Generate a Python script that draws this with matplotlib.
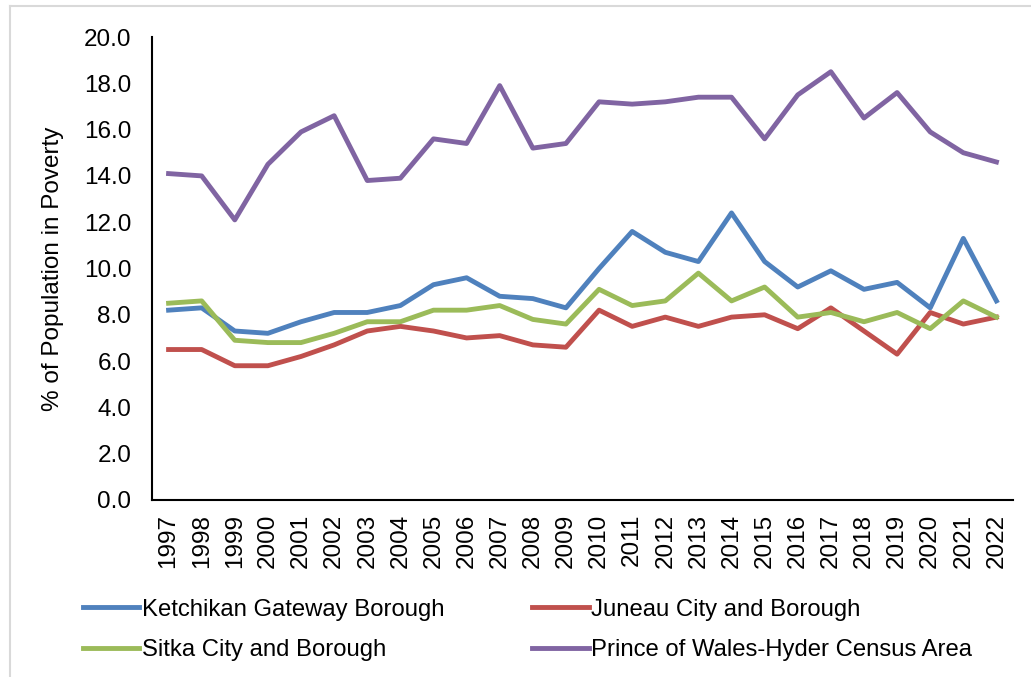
import matplotlib
matplotlib.use("Agg")
import matplotlib.pyplot as plt
from matplotlib.lines import Line2D

plt.rcParams['font.family'] = ['Liberation Sans', 'DejaVu Sans']

years = [str(y) for y in range(1997, 2023)]
ketchikan = [8.2, 8.3, 7.3, 7.2, 7.7, 8.1, 8.1, 8.4, 9.3, 9.6, 8.8, 8.7, 8.3,
             10.0, 11.6, 10.7, 10.3, 12.4, 10.3, 9.2, 9.9, 9.1, 9.4, 8.3, 11.3, 8.6]
juneau = [6.5, 6.5, 5.8, 5.8, 6.2, 6.7, 7.3, 7.5, 7.3, 7.0, 7.1, 6.7, 6.6,
          8.2, 7.5, 7.9, 7.5, 7.9, 8.0, 7.4, 8.3, 7.3, 6.3, 8.1, 7.6, 7.9]
sitka = [8.5, 8.6, 6.9, 6.8, 6.8, 7.2, 7.7, 7.7, 8.2, 8.2, 8.4, 7.8, 7.6,
         9.1, 8.4, 8.6, 9.8, 8.6, 9.2, 7.9, 8.1, 7.7, 8.1, 7.4, 8.6, 7.9]
pow_hyder = [14.1, 14.0, 12.1, 14.5, 15.9, 16.6, 13.8, 13.9, 15.6, 15.4, 17.9, 15.2, 15.4,
             17.2, 17.1, 17.2, 17.4, 17.4, 15.6, 17.5, 18.5, 16.5, 17.6, 15.9, 15.0, 14.6]
yticks = [0, 2, 4, 6, 8, 10, 12, 14, 16, 18, 20]

fig = plt.figure(figsize=(10.31, 6.77), dpi=100)
ax = fig.add_axes([152/1031, 1-500/677, (1013-152)/1031, (500-37)/677])

x = list(range(len(years)))
lw = 3.5
l1, = ax.plot(x, ketchikan, color='#4F81BD', lw=lw, label='Ketchikan Gateway Borough')
l2, = ax.plot(x, juneau, color='#C0504D', lw=lw, label='Juneau City and Borough')
l3, = ax.plot(x, sitka, color='#9BBB59', lw=lw, label='Sitka City and Borough')
l4, = ax.plot(x, pow_hyder, color='#8064A2', lw=lw, label='Prince of Wales-Hyder Census Area')

ax.set_xlim(-0.5, len(years) - 0.5)
ax.set_ylim(0, 20)
ax.set_yticks(yticks)
ax.set_yticklabels([f"{v:.1f}" for v in yticks])
ax.set_xticks(x)
ax.set_xticklabels(years, rotation=90)
ax.tick_params(axis='both', length=0, labelsize=17.5)
ax.tick_params(axis='y', pad=15)
ax.tick_params(axis='x', pad=10)
for s in ['top', 'right']:
    ax.spines[s].set_visible(False)
for s in ['left', 'bottom']:
    ax.spines[s].set_linewidth(1.5)
    ax.spines[s].set_color('black')
ax.set_ylabel('% of Population in Poverty', fontsize=17.5)
ax.yaxis.set_label_coords(-(152-64)/861, 0.5)

fig.legend(handles=[l1, l3, l2, l4], loc='upper left', ncol=2,
           bbox_to_anchor=(73/1031, 1-589/677), frameon=False, fontsize=17.2,
           handlelength=2.35, handletextpad=0.12, columnspacing=3.7,
           labelspacing=0.78, borderaxespad=0)

# light gray outer frame
fig.add_artist(Line2D([10/1031, 1], [1-6/677, 1-6/677], color='#D9D9D9', lw=1.5))
fig.add_artist(Line2D([10/1031, 10/1031], [0, 1-6/677], color='#D9D9D9', lw=1.5))

fig.savefig('out.png', dpi=100)
